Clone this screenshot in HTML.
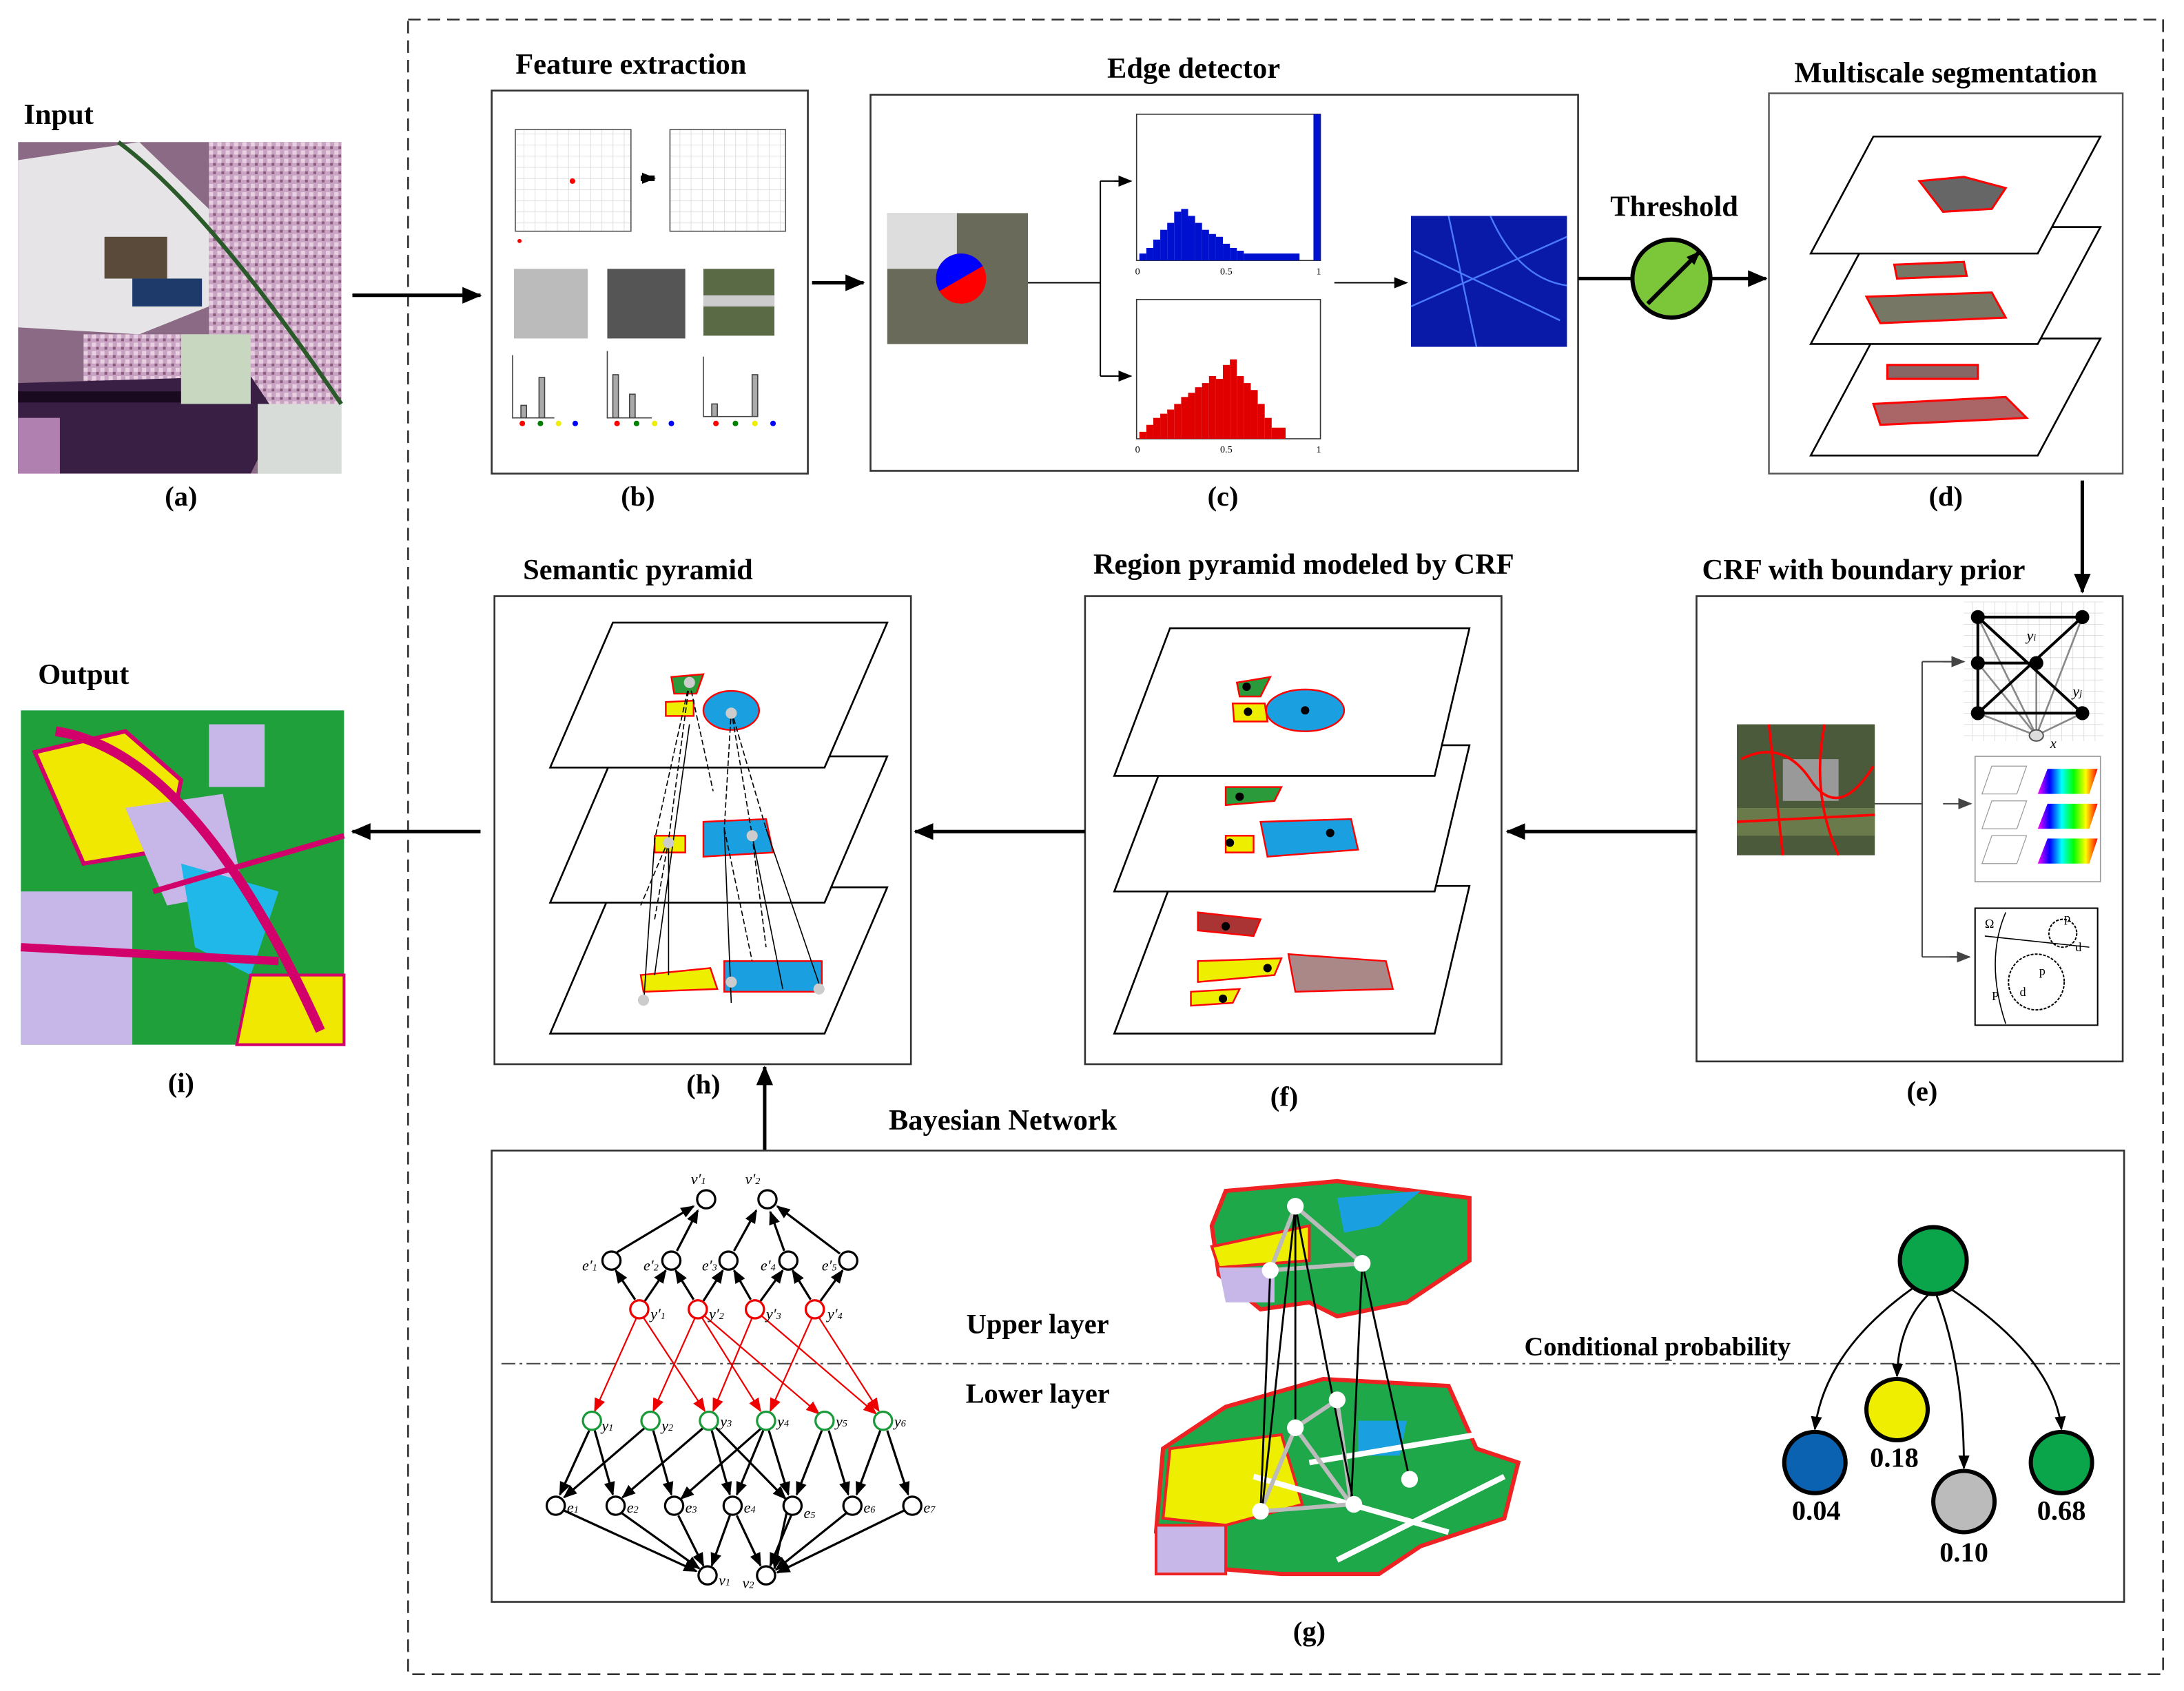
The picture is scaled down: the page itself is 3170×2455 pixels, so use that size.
<!DOCTYPE html>
<html><head><meta charset="utf-8"><style>
html,body{margin:0;padding:0;background:#fff;}
svg{display:block;}
text{font-family:"Liberation Serif",serif;}
.t{font-weight:bold;font-size:21px;}
.l{font-weight:bold;font-size:20px;}
</style></head><body>
<svg width="3170" height="2455" viewBox="0 0 1568 1214" preserveAspectRatio="none" xmlns="http://www.w3.org/2000/svg">
<defs>
<marker id="ah" markerWidth="10" markerHeight="10" refX="9" refY="5" orient="auto" markerUnits="userSpaceOnUse"><path d="M0,1 L10,5 L0,9 z" fill="#000"/></marker>
<marker id="ahb" markerWidth="14" markerHeight="12" refX="13" refY="6" orient="auto" markerUnits="userSpaceOnUse"><path d="M0,0 L14,6 L0,12 z" fill="#000"/></marker>
<marker id="ahr" markerWidth="10" markerHeight="10" refX="9" refY="5" orient="auto" markerUnits="userSpaceOnUse"><path d="M0,1 L10,5 L0,9 z" fill="#e00"/></marker>
<marker id="ahg" markerWidth="10" markerHeight="10" refX="9" refY="5" orient="auto" markerUnits="userSpaceOnUse"><path d="M0,1 L10,5 L0,9 z" fill="#444"/></marker>
<pattern id="grid" width="8" height="8" patternUnits="userSpaceOnUse"><path d="M8 0 L0 0 0 8" fill="none" stroke="#ccc" stroke-width="0.6"/></pattern>
<pattern id="pink" width="6" height="6" patternUnits="userSpaceOnUse"><rect width="6" height="6" fill="#c9a3c4"/><rect width="3" height="3" fill="#e8d0e0"/><rect x="3" y="3" width="2" height="2" fill="#8a5a7a"/></pattern>
<linearGradient id="rb" x1="0" y1="0" x2="1" y2="0"><stop offset="0" stop-color="#f0f"/><stop offset="0.2" stop-color="#00f"/><stop offset="0.4" stop-color="#0ff"/><stop offset="0.6" stop-color="#0f0"/><stop offset="0.8" stop-color="#ff0"/><stop offset="1" stop-color="#f00"/></linearGradient>
</defs>

<rect x="293" y="14" width="1260" height="1188" fill="none" stroke="#333" stroke-width="1.3" stroke-dasharray="9,5"/>

<!-- Input -->
<text x="17" y="89" class="t">Input</text>
<rect x="13" y="102" width="232" height="238" fill="#8a6a85"/>
<path d="M13,115 L100,102 L150,150 L150,220 L100,240 L13,235 Z" fill="#e6e4e6"/>
<rect x="150" y="102" width="95" height="200" fill="url(#pink)"/>
<rect x="60" y="240" width="110" height="40" fill="url(#pink)"/>
<path d="M13,275 L180,270 L200,300 L180,340 L13,340 Z" fill="#3a1f45"/>
<path d="M13,285 L180,285" stroke="#1a0a20" stroke-width="8"/>
<rect x="13" y="300" width="30" height="40" fill="#b080b0"/>
<rect x="185" y="290" width="60" height="50" fill="#d8dcd8"/>
<rect x="130" y="240" width="50" height="50" fill="#c8d8c0"/>
<path d="M85,102 Q150,150 245,290" stroke="#2a5a2a" stroke-width="3" fill="none"/>
<rect x="75" y="170" width="45" height="30" fill="#5a4a3a"/>
<rect x="95" y="200" width="50" height="20" fill="#1d3a6a"/>
<text x="130" y="363" class="l" text-anchor="middle">(a)</text>
<line x1="253" y1="212" x2="345" y2="212" stroke="#000" stroke-width="2.5" marker-end="url(#ahb)"/>

<!-- Feature extraction -->
<text x="453" y="53" class="t" text-anchor="middle">Feature extraction</text>
<rect x="353" y="65" width="227" height="275" fill="#fff" stroke="#333" stroke-width="1.3"/>
<rect x="370" y="93" width="83" height="73" fill="url(#grid)" stroke="#555" stroke-width="0.8"/>
<circle cx="411" cy="130" r="2" fill="red"/>
<path d="M460,128 L470,128" stroke="#000" stroke-width="4" marker-end="url(#ah)"/>
<rect x="481" y="93" width="83" height="73" fill="url(#grid)" stroke="#555" stroke-width="0.8"/>
<circle cx="373" cy="173" r="1.5" fill="red"/>
<rect x="369" y="193" width="53" height="50" fill="#bbb"/>
<rect x="436" y="193" width="56" height="50" fill="#555"/>
<rect x="505" y="193" width="51" height="48" fill="#5a6a45"/>
<rect x="505" y="212" width="51" height="8" fill="#ccc"/>
<g stroke="#444" stroke-width="0.8" fill="#aaa">
<path d="M368,255 V300 H398" fill="none"/><rect x="374" y="291" width="4" height="9"/><rect x="387" y="271" width="4" height="29"/>
<path d="M436,252 V300 H468" fill="none"/><rect x="440" y="269" width="4" height="31"/><rect x="452" y="283" width="4" height="17"/>
<path d="M505,256 V299 H540" fill="none"/><rect x="511" y="290" width="4" height="9"/><rect x="540" y="269" width="4" height="30"/>
</g>
<g><circle cx="375" cy="304" r="2" fill="red"/><circle cx="388" cy="304" r="2" fill="green"/><circle cx="401" cy="304" r="2" fill="#ee0"/><circle cx="413" cy="304" r="2" fill="blue"/>
<circle cx="443" cy="304" r="2" fill="red"/><circle cx="457" cy="304" r="2" fill="green"/><circle cx="470" cy="304" r="2" fill="#ee0"/><circle cx="482" cy="304" r="2" fill="blue"/>
<circle cx="514" cy="304" r="2" fill="red"/><circle cx="528" cy="304" r="2" fill="green"/><circle cx="542" cy="304" r="2" fill="#ee0"/><circle cx="555" cy="304" r="2" fill="blue"/></g>
<text x="458" y="363" class="l" text-anchor="middle">(b)</text>
<line x1="583" y1="203" x2="620" y2="203" stroke="#000" stroke-width="2.5" marker-end="url(#ahb)"/>

<!-- Edge detector -->
<text x="857" y="56" class="t" text-anchor="middle">Edge detector</text>
<rect x="625" y="68" width="508" height="270" fill="#fff" stroke="#333" stroke-width="1.3"/>
<rect x="637" y="153" width="101" height="94" fill="#6a6a5a"/>
<rect x="637" y="153" width="50" height="40" fill="#ddd"/>
<circle cx="690" cy="200" r="18" fill="red"/>
<path d="M672,200 A18,18 0 0 1 708,200 L690,200 z" fill="blue" transform="rotate(-30 690 200)"/>
<path d="M738,203 H790 M790,130 V270 M790,130 H812 M790,270 H812" stroke="#000" fill="none" stroke-width="1"/>
<line x1="800" y1="130" x2="812" y2="130" stroke="#000" marker-end="url(#ah)"/>
<line x1="800" y1="270" x2="812" y2="270" stroke="#000" marker-end="url(#ah)"/>
<rect x="816" y="82" width="132" height="105" fill="#fff" stroke="#333" stroke-width="0.8"/>
<g fill="#0010d0">
<rect x="818" y="182" width="5" height="5"/><rect x="823" y="178" width="5" height="9"/><rect x="828" y="172" width="5" height="15"/><rect x="833" y="165" width="5" height="22"/><rect x="838" y="160" width="5" height="27"/><rect x="843" y="152" width="5" height="35"/><rect x="848" y="150" width="5" height="37"/><rect x="853" y="155" width="5" height="32"/><rect x="858" y="160" width="5" height="27"/><rect x="863" y="165" width="5" height="22"/><rect x="868" y="168" width="5" height="19"/><rect x="873" y="170" width="5" height="17"/><rect x="878" y="175" width="5" height="12"/><rect x="883" y="178" width="5" height="9"/><rect x="888" y="180" width="5" height="7"/><rect x="893" y="182" width="40" height="5"/><rect x="943" y="82" width="5" height="105"/>
</g>
<rect x="816" y="215" width="132" height="100" fill="#fff" stroke="#333" stroke-width="0.8"/>
<g fill="#e00000">
<rect x="818" y="310" width="5" height="5"/><rect x="823" y="305" width="5" height="10"/><rect x="828" y="300" width="5" height="15"/><rect x="833" y="297" width="5" height="18"/><rect x="838" y="294" width="5" height="21"/><rect x="843" y="290" width="5" height="25"/><rect x="848" y="285" width="5" height="30"/><rect x="853" y="282" width="5" height="33"/><rect x="858" y="278" width="5" height="37"/><rect x="863" y="275" width="5" height="40"/><rect x="868" y="270" width="5" height="45"/><rect x="873" y="272" width="5" height="43"/><rect x="878" y="262" width="5" height="53"/><rect x="883" y="258" width="5" height="57"/><rect x="888" y="270" width="5" height="45"/><rect x="893" y="275" width="5" height="40"/><rect x="898" y="280" width="5" height="35"/><rect x="903" y="290" width="5" height="25"/><rect x="908" y="300" width="5" height="15"/><rect x="913" y="307" width="10" height="8"/>
</g>
<g font-size="7" font-family="Liberation Sans"><text x="815" y="197">0</text><text x="876" y="197">0.5</text><text x="945" y="197">1</text><text x="815" y="325">0</text><text x="876" y="325">0.5</text><text x="945" y="325">1</text></g>
<line x1="958" y1="203" x2="1010" y2="203" stroke="#000" marker-end="url(#ah)"/>
<rect x="1013" y="155" width="112" height="94" fill="#0a1aa8"/>
<path d="M1015,180 L1120,230 M1040,155 L1060,249 M1013,220 L1125,170 M1070,155 Q1090,200 1125,205" stroke="#4a7aff" stroke-width="1.2" fill="none"/>
<text x="878" y="363" class="l" text-anchor="middle">(c)</text>

<text x="1202" y="155" class="t" text-anchor="middle">Threshold</text>
<line x1="1133" y1="200" x2="1172" y2="200" stroke="#000" stroke-width="2.5"/>
<circle cx="1200" cy="200" r="28" fill="#7cc63a" stroke="#000" stroke-width="3"/>
<line x1="1183" y1="218" x2="1220" y2="181" stroke="#000" stroke-width="3" marker-end="url(#ah)"/>
<line x1="1228" y1="200" x2="1268" y2="200" stroke="#000" stroke-width="2.5" marker-end="url(#ahb)"/>

<text x="1397" y="59" class="t" text-anchor="middle">Multiscale segmentation</text>
<rect x="1270" y="67" width="254" height="273" fill="#fff" stroke="#555" stroke-width="1.2"/>
<g fill="#fff" stroke="#000" stroke-width="1.3">
<polygon points="1345,243 1508,243 1463,327 1300,327"/>
<polygon points="1345,163 1508,163 1463,247 1300,247"/>
<polygon points="1345,98 1508,98 1463,182 1300,182"/>
</g>
<path d="M1378,130 L1410,127 L1440,135 L1430,150 L1395,152 z" fill="#666" stroke="red" stroke-width="1.5"/>
<path d="M1340,213 L1430,210 L1440,228 L1350,232 z" fill="#776" stroke="red" stroke-width="1.5"/>
<path d="M1360,190 L1410,188 L1412,198 L1362,200 z" fill="#776" stroke="red" stroke-width="1.5"/>
<path d="M1345,290 L1440,285 L1455,300 L1350,305 z" fill="#a66" stroke="red" stroke-width="1.5"/>
<path d="M1355,262 L1420,262 L1420,272 L1355,272 z" fill="#866" stroke="red" stroke-width="1.5"/>
<text x="1397" y="363" class="l" text-anchor="middle">(d)</text>
<line x1="1495" y1="345" x2="1495" y2="425" stroke="#000" stroke-width="2.5" marker-end="url(#ahb)"/>

<text x="1338" y="416" class="t" text-anchor="middle">CRF with boundary prior</text>
<rect x="1218" y="428" width="306" height="334" fill="#fff" stroke="#333" stroke-width="1.3"/>
<rect x="1247" y="520" width="99" height="94" fill="#4a5a3a"/>
<rect x="1280" y="545" width="40" height="30" fill="#999"/>
<rect x="1247" y="580" width="99" height="20" fill="#6a7a4a"/>
<path d="M1250,545 Q1280,530 1300,560 T1345,550 M1270,520 L1280,614 M1310,520 Q1300,570 1320,614 M1247,590 L1346,585" stroke="red" stroke-width="1.8" fill="none"/>
<path d="M1346,577 H1380 M1380,475 V687 M1380,475 H1410 M1380,687 H1414" stroke="#444" stroke-width="1" fill="none"/>
<line x1="1395" y1="475" x2="1410" y2="475" stroke="#444" marker-end="url(#ahg)"/>
<line x1="1395" y1="577" x2="1415" y2="577" stroke="#444" marker-end="url(#ahg)"/>
<line x1="1400" y1="687" x2="1414" y2="687" stroke="#444" marker-end="url(#ahg)"/>
<rect x="1410" y="432" width="100" height="100" fill="url(#grid)"/>
<g stroke="#888" stroke-width="1.3"><path d="M1420,443 L1462,528 M1495,443 L1462,528 M1420,476 L1462,528 M1420,512 L1462,528 M1495,512 L1462,528 M1462,476 L1462,528"/></g>
<g stroke="#000" stroke-width="2"><path d="M1420,443 H1495 M1420,443 V512 M1420,476 H1462 M1420,512 H1495 M1420,443 L1495,512 M1495,443 L1420,512"/></g>
<g fill="#000"><circle cx="1420" cy="443" r="5"/><circle cx="1495" cy="443" r="5"/><circle cx="1420" cy="476" r="5"/><circle cx="1462" cy="476" r="5"/><circle cx="1420" cy="512" r="5"/><circle cx="1495" cy="512" r="5"/></g>
<ellipse cx="1462" cy="528" rx="5" ry="4" fill="#ddd" stroke="#555"/>
<text x="1455" y="460" font-size="11" font-style="italic">y<tspan font-size="7">i</tspan></text>
<text x="1488" y="500" font-size="11" font-style="italic">y<tspan font-size="7">j</tspan></text>
<text x="1472" y="537" font-size="10" font-style="italic">x</text>
<rect x="1418" y="543" width="90" height="90" fill="#fff" stroke="#999" stroke-width="0.8"/>
<g fill="none" stroke="#999" stroke-width="0.6"><polygon points="1430,550 1455,550 1448,570 1423,570"/><polygon points="1430,575 1455,575 1448,595 1423,595"/><polygon points="1430,600 1455,600 1448,620 1423,620"/></g>
<polygon points="1470,552 1506,552 1500,570 1463,570" fill="url(#rb)"/>
<polygon points="1470,577 1506,577 1500,595 1463,595" fill="url(#rb)"/>
<polygon points="1470,602 1506,602 1500,620 1463,620" fill="url(#rb)"/>
<rect x="1418" y="652" width="88" height="84" fill="#fff" stroke="#000" stroke-width="1"/>
<path d="M1440,655 Q1425,690 1440,735 M1425,672 L1500,680" stroke="#000" stroke-width="0.8" fill="none"/>
<circle cx="1481" cy="670" r="10" fill="none" stroke="#000" stroke-dasharray="2,1"/>
<circle cx="1462" cy="705" r="20" fill="none" stroke="#000" stroke-dasharray="2,1"/>
<g font-size="9"><text x="1425" y="666">Ω</text><text x="1482" y="662">p</text><text x="1490" y="683">d</text><text x="1464" y="700">p</text><text x="1450" y="715">d</text><text x="1430" y="718">P</text></g>
<text x="1380" y="790" class="l" text-anchor="middle">(e)</text>

<line x1="1218" y1="597" x2="1082" y2="597" stroke="#000" stroke-width="2.5" marker-end="url(#ahb)"/>

<text x="936" y="412" class="t" text-anchor="middle">Region pyramid modeled by CRF</text>
<rect x="779" y="428" width="299" height="336" fill="#fff" stroke="#333" stroke-width="1.3"/>
<g fill="#fff" stroke="#000" stroke-width="1.3">
<polygon points="840,636 1055,636 1030,742 800,742"/>
<polygon points="840,535 1055,535 1030,640 800,640"/>
<polygon points="840,451 1055,451 1030,557 800,557"/>
</g>
<g stroke="red" stroke-width="1.2">
<path d="M888,490 L912,486 L905,500 L890,500 z" fill="#2a9a3a"/>
<path d="M885,505 L908,505 L910,518 L886,518 z" fill="#ee0"/>
<ellipse cx="937" cy="510" rx="28" ry="15" fill="#1aa0e0"/>
<path d="M880,565 L920,565 L915,575 L880,578 z" fill="#2a9a3a"/>
<path d="M880,600 L900,600 L900,612 L880,612 z" fill="#ee0"/>
<path d="M905,590 L970,588 L975,610 L910,615 z" fill="#1aa0e0"/>
<path d="M860,655 L905,660 L900,672 L860,668 z" fill="#a33"/>
<path d="M860,690 L920,688 L915,700 L860,705 z" fill="#ee0"/>
<path d="M925,685 L995,690 L1000,710 L930,712 z" fill="#a88"/>
<path d="M855,712 L890,710 L885,720 L855,722 z" fill="#ee0"/>
</g>
<g fill="#000"><circle cx="895" cy="493" r="3"/><circle cx="896" cy="511" r="3"/><circle cx="937" cy="510" r="3"/><circle cx="890" cy="572" r="3"/><circle cx="883" cy="605" r="3"/><circle cx="955" cy="598" r="3"/><circle cx="880" cy="665" r="3"/><circle cx="910" cy="695" r="3"/><circle cx="878" cy="717" r="3"/></g>
<text x="922" y="794" class="l" text-anchor="middle">(f)</text>

<line x1="779" y1="597" x2="657" y2="597" stroke="#000" stroke-width="2.5" marker-end="url(#ahb)"/>

<text x="458" y="416" class="t" text-anchor="middle">Semantic pyramid</text>
<rect x="355" y="428" width="299" height="336" fill="#fff" stroke="#333" stroke-width="1.3"/>
<g fill="#fff" stroke="#000" stroke-width="1.3">
<polygon points="440,637 637,637 592,742 395,742"/>
<polygon points="440,543 637,543 592,648 395,648"/>
<polygon points="440,447 637,447 592,551 395,551"/>
</g>
<g stroke="red" stroke-width="1.2">
<path d="M482,486 L505,484 L500,498 L484,498 z" fill="#2a9a3a"/>
<path d="M478,504 L498,503 L498,514 L478,514 z" fill="#ee0"/>
<ellipse cx="525" cy="510" rx="20" ry="14" fill="#1aa0e0"/>
<path d="M470,600 L492,600 L492,612 L470,612 z" fill="#ee0"/>
<path d="M505,590 L550,588 L555,612 L505,615 z" fill="#1aa0e0"/>
<path d="M460,700 L510,695 L515,710 L462,712 z" fill="#ee0"/>
<path d="M520,690 L590,690 L590,712 L520,712 z" fill="#1aa0e0"/>
</g>
<g stroke="#000" stroke-width="0.8" stroke-dasharray="4,2" fill="none">
<path d="M495,490 L470,603 M495,490 L480,603 M495,490 L512,568 M525,510 L520,595 M525,510 L540,600 M525,510 L550,595 M480,603 L460,650 M480,603 L470,660 M540,600 L550,680 M520,595 L540,690"/>
</g>
<g stroke="#000" stroke-width="0.8" fill="none">
<path d="M470,603 L462,722 M480,603 L480,700 M520,595 L525,720 M540,600 L562,710 M550,595 L590,712 M495,520 L470,700"/>
</g>
<g fill="#ccc"><circle cx="495" cy="490" r="4"/><circle cx="525" cy="512" r="4"/><circle cx="480" cy="605" r="4"/><circle cx="540" cy="600" r="4"/><circle cx="462" cy="718" r="4"/><circle cx="525" cy="705" r="4"/><circle cx="588" cy="710" r="4"/></g>
<text x="505" y="785" class="l" text-anchor="middle">(h)</text>

<line x1="345" y1="597" x2="253" y2="597" stroke="#000" stroke-width="2.5" marker-end="url(#ahb)"/>

<text x="60" y="491" class="t" text-anchor="middle">Output</text>
<rect x="15" y="510" width="232" height="240" fill="#1fa03a"/>
<rect x="150" y="520" width="40" height="45" fill="#c7b7e8"/>
<rect x="15" y="640" width="80" height="110" fill="#c7b7e8"/>
<path d="M25,540 L90,525 L130,560 L120,610 L60,620 Z" fill="#f0e800" stroke="#d2006a" stroke-width="3"/>
<path d="M90,580 L160,570 L175,640 L120,650 Z" fill="#c7b7e8"/>
<path d="M130,620 L200,640 L180,700 L140,680 Z" fill="#20b8e8"/>
<path d="M180,700 L247,700 L247,750 L170,750 Z" fill="#f0e800" stroke="#d2006a" stroke-width="2"/>
<path d="M40,525 Q140,540 230,740" stroke="#d2006a" stroke-width="7" fill="none"/>
<path d="M15,680 L200,690" stroke="#d2006a" stroke-width="6" fill="none"/>
<path d="M110,640 L247,600" stroke="#d2006a" stroke-width="4" fill="none"/>
<text x="130" y="784" class="l" text-anchor="middle">(i)</text>

<text x="720" y="811" class="t" text-anchor="middle">Bayesian Network</text>
<line x1="549" y1="826" x2="549" y2="766" stroke="#000" stroke-width="2.5" marker-end="url(#ahb)"/>
<rect x="353" y="826" width="1172" height="324" fill="#fff" stroke="#333" stroke-width="1.3"/>
<line x1="360" y1="979" x2="1522" y2="979" stroke="#444" stroke-width="1" stroke-dasharray="10,3,2,3"/>
<text x="745" y="957" class="l" text-anchor="middle" font-size="19">Upper layer</text>
<text x="745" y="1007" class="l" text-anchor="middle" font-size="19">Lower layer</text>
<text x="1190" y="973" font-size="19" text-anchor="middle" font-weight="bold">Conditional probability</text>

<g stroke="#000" stroke-width="1.6" fill="none" marker-end="url(#ah)">
<line x1="443" y1="899" x2="498" y2="866"/><line x1="486" y1="898" x2="501" y2="869"/>
<line x1="527" y1="898" x2="543" y2="869"/><line x1="563" y1="898" x2="553" y2="870"/><line x1="603" y1="900" x2="558" y2="866"/>
<line x1="456" y1="933" x2="442" y2="912"/><line x1="463" y1="934" x2="478" y2="912"/>
<line x1="498" y1="933" x2="485" y2="912"/><line x1="505" y1="934" x2="519" y2="912"/>
<line x1="539" y1="933" x2="527" y2="912"/><line x1="546" y1="934" x2="562" y2="912"/>
<line x1="582" y1="933" x2="569" y2="912"/><line x1="589" y1="934" x2="605" y2="912"/>
<line x1="423" y1="1027" x2="402" y2="1073"/><line x1="427" y1="1027" x2="440" y2="1073"/>
<line x1="463" y1="1025" x2="405" y2="1075"/><line x1="469" y1="1027" x2="482" y2="1073"/>
<line x1="505" y1="1025" x2="447" y2="1075"/><line x1="511" y1="1027" x2="524" y2="1073"/><line x1="514" y1="1025" x2="564" y2="1076"/>
<line x1="547" y1="1025" x2="489" y2="1076"/><line x1="548" y1="1027" x2="529" y2="1073"/><line x1="552" y1="1027" x2="566" y2="1073"/>
<line x1="590" y1="1027" x2="572" y2="1073"/><line x1="595" y1="1027" x2="609" y2="1073"/>
<line x1="632" y1="1027" x2="615" y2="1073"/><line x1="637" y1="1027" x2="652" y2="1073"/>
<line x1="404" y1="1084" x2="500" y2="1128"/><line x1="446" y1="1086" x2="502" y2="1126"/><line x1="487" y1="1088" x2="505" y2="1124"/>
<line x1="524" y1="1088" x2="511" y2="1124"/><line x1="529" y1="1088" x2="546" y2="1124"/>
<line x1="568" y1="1088" x2="553" y2="1124"/><line x1="565" y1="1085" x2="556" y2="1126"/><line x1="608" y1="1086" x2="557" y2="1127"/><line x1="650" y1="1084" x2="558" y2="1129"/>
</g>
<g stroke="#e00" stroke-width="1.1" fill="none" marker-end="url(#ahr)">
<line x1="457" y1="946" x2="427" y2="1013"/><line x1="462" y1="946" x2="506" y2="1013"/>
<line x1="499" y1="946" x2="469" y2="1013"/><line x1="504" y1="946" x2="546" y2="1013"/><line x1="505" y1="944" x2="588" y2="1015"/>
<line x1="540" y1="946" x2="512" y2="1013"/><line x1="546" y1="944" x2="629" y2="1015"/>
<line x1="583" y1="946" x2="553" y2="1013"/><line x1="588" y1="946" x2="631" y2="1013"/>
</g>
<g fill="#fff" stroke="#000" stroke-width="1.6">
<circle cx="507" cy="861" r="6.5"/><circle cx="551" cy="861" r="6.5"/>
<circle cx="439" cy="905" r="6.5"/><circle cx="482" cy="905" r="6.5"/><circle cx="523" cy="905" r="6.5"/><circle cx="566" cy="905" r="6.5"/><circle cx="609" cy="905" r="6.5"/>
<circle cx="399" cy="1081" r="6.5"/><circle cx="442" cy="1081" r="6.5"/><circle cx="484" cy="1081" r="6.5"/><circle cx="526" cy="1081" r="6.5"/><circle cx="569" cy="1081" r="6.5"/><circle cx="612" cy="1081" r="6.5"/><circle cx="655" cy="1081" r="6.5"/>
<circle cx="508" cy="1131" r="6.5"/><circle cx="550" cy="1131" r="6.5"/>
</g>
<g fill="#fff" stroke="#e00" stroke-width="1.6"><circle cx="459" cy="940" r="6.5"/><circle cx="501" cy="940" r="6.5"/><circle cx="542" cy="940" r="6.5"/><circle cx="585" cy="940" r="6.5"/></g>
<g fill="#fff" stroke="#1a9a3a" stroke-width="1.6"><circle cx="425" cy="1020" r="6.5"/><circle cx="467" cy="1020" r="6.5"/><circle cx="509" cy="1020" r="6.5"/><circle cx="550" cy="1020" r="6.5"/><circle cx="592" cy="1020" r="6.5"/><circle cx="634" cy="1020" r="6.5"/></g>
<g font-size="11" font-style="italic">
<text x="496" y="850">v′<tspan font-size="7">1</tspan></text><text x="535" y="850">v′<tspan font-size="7">2</tspan></text>
<text x="418" y="912">e′<tspan font-size="7">1</tspan></text><text x="462" y="912">e′<tspan font-size="7">2</tspan></text><text x="504" y="912">e′<tspan font-size="7">3</tspan></text><text x="546" y="912">e′<tspan font-size="7">4</tspan></text><text x="590" y="912">e′<tspan font-size="7">5</tspan></text>
<text x="467" y="947">y′<tspan font-size="7">1</tspan></text><text x="509" y="947">y′<tspan font-size="7">2</tspan></text><text x="550" y="947">y′<tspan font-size="7">3</tspan></text><text x="594" y="947">y′<tspan font-size="7">4</tspan></text>
<text x="432" y="1027">y<tspan font-size="7">1</tspan></text><text x="475" y="1027">y<tspan font-size="7">2</tspan></text><text x="517" y="1024">y<tspan font-size="7">3</tspan></text><text x="558" y="1024">y<tspan font-size="7">4</tspan></text><text x="600" y="1024">y<tspan font-size="7">5</tspan></text><text x="642" y="1024">y<tspan font-size="7">6</tspan></text>
<text x="407" y="1086">e<tspan font-size="7">1</tspan></text><text x="450" y="1086">e<tspan font-size="7">2</tspan></text><text x="492" y="1086">e<tspan font-size="7">3</tspan></text><text x="534" y="1086">e<tspan font-size="7">4</tspan></text><text x="577" y="1090">e<tspan font-size="7">5</tspan></text><text x="620" y="1086">e<tspan font-size="7">6</tspan></text><text x="663" y="1086">e<tspan font-size="7">7</tspan></text>
<text x="516" y="1138">v<tspan font-size="7">1</tspan></text><text x="533" y="1140">v<tspan font-size="7">2</tspan></text>
</g>

<path d="M880,855 L960,848 L1055,860 L1055,905 L1010,935 L960,945 L940,935 L905,940 L875,915 L870,880 Z" fill="#1fa84a" stroke="#e22" stroke-width="3"/>
<path d="M960,860 L1020,855 L990,880 L965,885 Z" fill="#1aa0e0"/>
<path d="M870,895 L940,880 L940,905 L875,910 Z" fill="#ee0" stroke="#e22" stroke-width="2"/>
<path d="M875,910 L915,910 L915,935 L880,935 Z" fill="#c7b7e8"/>
<path d="M880,1010 L950,990 L1040,995 L1060,1040 L1090,1050 L1080,1090 L1020,1110 L990,1130 L920,1130 L860,1125 L830,1100 L835,1040 Z" fill="#1fa84a" stroke="#e22" stroke-width="3"/>
<path d="M840,1040 L920,1030 L935,1080 L880,1095 L835,1090 Z" fill="#ee0" stroke="#e22" stroke-width="2"/>
<path d="M830,1095 L880,1095 L880,1130 L830,1130 Z" fill="#c7b7e8" stroke="#e22" stroke-width="2"/>
<path d="M975,1020 L1010,1020 L1005,1045 L975,1045 Z" fill="#1aa0e0"/>
<path d="M940,1050 L1060,1030 M960,1120 L1080,1060 M900,1060 L1040,1100" stroke="#fff" stroke-width="4"/>
<g stroke="#bbb" stroke-width="3" fill="none"><path d="M930,866 L912,912 L978,907 Z"/><path d="M930,1025 L905,1085 L970,1080 L960,1005 Z M930,1025 L970,1080"/></g>
<g stroke="#000" stroke-width="1.4"><path d="M930,866 L906,1085 M930,866 L930,1020 M930,866 L972,1080 M978,907 L1012,1062 M912,912 L905,1085 M978,907 L970,1080"/></g>
<g fill="#fff"><circle cx="930" cy="866" r="6"/><circle cx="912" cy="912" r="6"/><circle cx="978" cy="907" r="6"/><circle cx="930" cy="1025" r="6"/><circle cx="960" cy="1005" r="6"/><circle cx="1012" cy="1062" r="6"/><circle cx="972" cy="1080" r="6"/><circle cx="905" cy="1085" r="6"/></g>

<g stroke="#000" stroke-width="1.4" fill="none" marker-end="url(#ah)">
<path d="M1373,925 Q1310,970 1303,1026"/>
<path d="M1385,929 Q1363,950 1362,988"/>
<path d="M1390,929 Q1410,980 1410,1054"/>
<path d="M1400,925 Q1475,975 1480,1026"/>
</g>
<circle cx="1388" cy="905" r="24" fill="#0aa44a" stroke="#000" stroke-width="3"/>
<circle cx="1303" cy="1050" r="22" fill="#0a62b0" stroke="#000" stroke-width="3"/>
<circle cx="1362" cy="1012" r="22" fill="#f0ee00" stroke="#000" stroke-width="3"/>
<circle cx="1410" cy="1078" r="22" fill="#bbb" stroke="#000" stroke-width="3"/>
<circle cx="1480" cy="1050" r="22" fill="#0aa44a" stroke="#000" stroke-width="3"/>
<g class="l" font-weight="bold" font-size="21" text-anchor="middle"><text x="1304" y="1091">0.04</text><text x="1360" y="1053">0.18</text><text x="1410" y="1121">0.10</text><text x="1480" y="1091">0.68</text></g>
<text x="940" y="1178" class="l" text-anchor="middle">(g)</text>
</svg>
</body></html>
